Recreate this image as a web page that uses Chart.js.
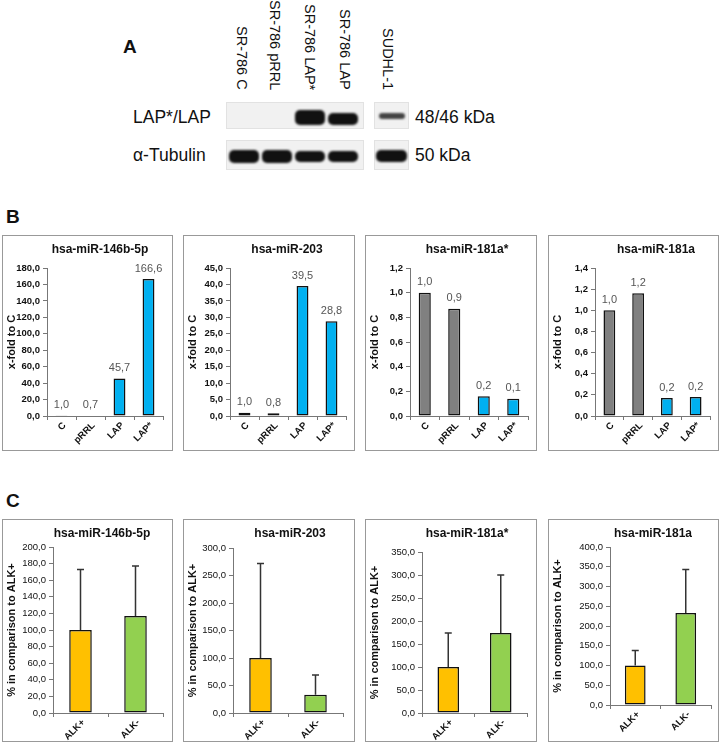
<!DOCTYPE html>
<html>
<head>
<meta charset="utf-8">
<script src="https://cdn.jsdelivr.net/npm/chart.js@4.4.1/dist/chart.umd.min.js"></script>
<style>
body{margin:0;width:720px;height:743px;position:relative;font-family:"Liberation Sans",Arial,sans-serif;background:#fff;overflow:hidden;color:#111}
.lab{position:absolute;font-weight:bold;font-size:19px}
.lane{position:absolute;writing-mode:vertical-rl;font-size:14.5px;white-space:nowrap;bottom:653px;line-height:16px}
.txt{position:absolute;font-size:17.5px;white-space:nowrap}
.blot{position:absolute;background:#f1f1f1;border:1px solid #e2e2e2;box-sizing:border-box}
.band{position:absolute;background:#111;border-radius:5px;filter:blur(0.8px)}
.box{position:absolute;border:1px solid #999;box-sizing:border-box;background:#fff}
.box canvas{display:block}
</style>
</head>
<body>
<div class="lab" style="left:123px;top:36px">A</div>
<div class="lane" style="left:234px">SR-786 C</div>
<div class="lane" style="left:267px">SR-786 pRRL</div>
<div class="lane" style="left:302px">SR-786 LAP*</div>
<div class="lane" style="left:337px">SR-786 LAP</div>
<div class="lane" style="left:380px">SUDHL-1</div>

<div class="txt" style="left:133px;top:107px">LAP*/LAP</div>
<div class="txt" style="left:133px;top:145px">α-Tubulin</div>
<div class="txt" style="left:415px;top:107px">48/46 kDa</div>
<div class="txt" style="left:415px;top:145px">50 kDa</div>

<div class="blot" style="left:226px;top:102px;width:138px;height:27px"></div>
<div class="blot" style="left:226px;top:140px;width:138px;height:30px"></div>
<div class="blot" style="left:374px;top:102px;width:35px;height:27px"></div>
<div class="blot" style="left:374px;top:140px;width:35px;height:30px"></div>

<div class="band" style="left:295px;top:110px;width:30px;height:15px"></div>
<div class="band" style="left:328px;top:113px;width:30px;height:12px"></div>
<div class="band" style="left:379px;top:113px;width:26px;height:6px;background:#444"></div>
<div class="band" style="left:229px;top:150px;width:30px;height:13px"></div>
<div class="band" style="left:262px;top:150px;width:30px;height:13px"></div>
<div class="band" style="left:295px;top:151px;width:30px;height:11px"></div>
<div class="band" style="left:328px;top:151px;width:30px;height:11px"></div>
<div class="band" style="left:376px;top:150px;width:31px;height:12px"></div>

<div class="lab" style="left:6px;top:206px">B</div>
<div class="box" style="left:2px;top:235px;width:171px;height:216px"><canvas id="b1" width="169" height="214"></canvas></div>
<div class="box" style="left:183px;top:235px;width:172px;height:216px"><canvas id="b2" width="170" height="214"></canvas></div>
<div class="box" style="left:365px;top:235px;width:172px;height:216px"><canvas id="b3" width="170" height="214"></canvas></div>
<div class="box" style="left:548px;top:235px;width:171px;height:216px"><canvas id="b4" width="169" height="214"></canvas></div>

<div class="lab" style="left:6px;top:490px">C</div>
<div class="box" style="left:2px;top:519px;width:171px;height:223px"><canvas id="c1" width="169" height="221"></canvas></div>
<div class="box" style="left:183px;top:519px;width:172px;height:223px"><canvas id="c2" width="170" height="221"></canvas></div>
<div class="box" style="left:365px;top:519px;width:172px;height:223px"><canvas id="c3" width="170" height="221"></canvas></div>
<div class="box" style="left:548px;top:519px;width:171px;height:223px"><canvas id="c4" width="169" height="221"></canvas></div>

<script>
// panel B: x-fold to C
const bCats = ["C", "pRRL", "LAP", "LAP*"];
const bColors = ["#808080", "#808080", "#00B0F0", "#00B0F0"];
const b146 = [1.0, 0.7, 45.7, 166.6];
const b203 = [1.0, 0.8, 39.5, 28.8];
const b181aStar = [1.0, 0.87, 0.16, 0.14];
const b181a = [1.0, 1.16, 0.17, 0.18];

// panel C: % in comparison to ALK+
const cCats = ["ALK+", "ALK-"];
const cColors = ["#FFC000", "#92D050"];
const c146 = [100.0, 117.0];
const c146Err = [73.0, 60.0];
const c203 = [100.0, 33.0];
const c203Err = [172.0, 36.0];
const c181aStar = [100.0, 174.0];
const c181aStarErr = [74.0, 126.0];
const c181a = [100.0, 233.0];
const c181aErr = [38.0, 110.0];

// plot area placement inside each box (px)
const boxes = {
    b1: { left: 44, right: 9, top: 32, bottom: 34, titleX: 97 },
    b2: { left: 46, right: 8, top: 32, bottom: 34, titleX: 103 },
    b3: { left: 44, right: 8, top: 32, bottom: 34, titleX: 101 },
    b4: { left: 46, right: 8, top: 32, bottom: 34, titleX: 107 },
    c1: { left: 50, right: 9, top: 27, bottom: 28, titleX: 99 },
    c2: { left: 49, right: 11, top: 28, bottom: 28, titleX: 106 },
    c3: { left: 56, right: 9, top: 32, bottom: 28, titleX: 101 },
    c4: { left: 61, right: 7, top: 27, bottom: 36, titleX: 104 },
};

const fmt = (v) => Number(v).toFixed(1).replace(".", ",");
const FONT = "'Liberation Sans', Arial, sans-serif";

const boxTitle = {
    id: "boxTitle",
    afterDraw(chart, args, opts) {
        const ctx = chart.ctx;
        ctx.save();
        ctx.fillStyle = "#111";
        ctx.font = "bold 12px " + FONT;
        ctx.textAlign = "center";
        ctx.textBaseline = "middle";
        ctx.fillText(opts.text, opts.x, 14);
        ctx.restore();
    },
};

// category labels slanted at 45 degrees, ending under each tick
const slantLabels = {
    id: "slantLabels",
    afterDraw(chart) {
        const ctx = chart.ctx;
        const x = chart.scales.x;
        ctx.save();
        ctx.fillStyle = "#111";
        ctx.font = "bold 9.5px " + FONT;
        ctx.textAlign = "right";
        ctx.textBaseline = "middle";
        chart.data.labels.forEach((lab, i) => {
            const px = x.getPixelForValue(i);
            ctx.save();
            ctx.translate(px + 3, x.top + 8);
            ctx.rotate(-Math.PI / 4);
            ctx.fillText(lab, 0, 0);
            ctx.restore();
        });
        ctx.restore();
    },
};

const valueLabels = {
    id: "valueLabels",
    afterDatasetsDraw(chart, args, opts) {
        if (!opts.show) return;
        const ctx = chart.ctx;
        const meta = chart.getDatasetMeta(0);
        ctx.save();
        ctx.fillStyle = "#555";
        ctx.font = "11px " + FONT;
        ctx.textAlign = "center";
        ctx.textBaseline = "bottom";
        meta.data.forEach((bar, i) => {
            ctx.fillText(fmt(chart.data.datasets[0].data[i]), bar.x, bar.y - 5);
        });
        ctx.restore();
    },
};

const errorBars = {
    id: "errorBars",
    afterDatasetsDraw(chart, args, opts) {
        if (!opts.errors) return;
        const ctx = chart.ctx;
        const meta = chart.getDatasetMeta(0);
        const y = chart.scales.y;
        const vals = chart.data.datasets[0].data;
        ctx.save();
        ctx.strokeStyle = "#333";
        ctx.lineWidth = 1.5;
        meta.data.forEach((bar, i) => {
            const top = y.getPixelForValue(vals[i] + opts.errors[i]);
            ctx.beginPath();
            ctx.moveTo(bar.x, bar.y);
            ctx.lineTo(bar.x, top);
            ctx.moveTo(bar.x - 3.5, top);
            ctx.lineTo(bar.x + 3.5, top);
            ctx.stroke();
        });
        ctx.restore();
    },
};

function makeChart(id, title, labels, values, colors, max, step, yTitle, errors, boldTicks) {
    const L = boxes[id];
    new Chart(document.getElementById(id), {
        type: "bar",
        data: {
            labels,
            datasets: [
                {
                    data: values,
                    backgroundColor: colors,
                    borderColor: "#111",
                    borderWidth: 1.5,
                    borderSkipped: false,
                    barPercentage: 1,
                    categoryPercentage: 0.41,
                },
            ],
        },
        options: {
            responsive: false,
            animation: false,
            layout: { padding: { left: 0, right: L.right, top: L.top, bottom: 0 } },
            plugins: {
                legend: { display: false },
                tooltip: { enabled: false },
                title: { display: false },
                boxTitle: { text: title, x: L.titleX },
                valueLabels: { show: !errors },
                errorBars: { errors },
            },
            scales: {
                x: {
                    afterFit: (s) => { s.height = L.bottom; },
                    grid: { drawOnChartArea: false, color: "#777", tickLength: 4 },
                    border: { color: "#777" },
                    ticks: { display: false },
                },
                y: {
                    min: 0,
                    max,
                    afterFit: (s) => { s.width = L.left; },
                    grid: { drawOnChartArea: false, color: "#777", tickLength: 4 },
                    border: { color: "#777" },
                    ticks: {
                        stepSize: step,
                        autoSkip: false,
                        color: "#111",
                        font: { family: FONT, size: 9.5, weight: boldTicks ? "bold" : "normal" },
                        callback: (v) => fmt(v),
                        padding: 3,
                    },
                    title: {
                        display: true,
                        text: yTitle,
                        color: "#111",
                        font: { family: FONT, size: 11, weight: "bold" },
                        padding: { top: 2, bottom: 0 },
                    },
                },
            },
        },
        plugins: [boxTitle, slantLabels, valueLabels, errorBars],
    });
}

makeChart("b1", "hsa-miR-146b-5p", bCats, b146, bColors, 180, 20, "x-fold to C", null, true);
makeChart("b2", "hsa-miR-203", bCats, b203, bColors, 45, 5, "x-fold to C", null, true);
makeChart("b3", "hsa-miR-181a*", bCats, b181aStar, bColors, 1.2, 0.2, "x-fold to C", null, true);
makeChart("b4", "hsa-miR-181a", bCats, b181a, bColors, 1.4, 0.2, "x-fold to C", null, true);

makeChart("c1", "hsa-miR-146b-5p", cCats, c146, cColors, 200, 20, "% in comparison to ALK+", c146Err, false);
makeChart("c2", "hsa-miR-203", cCats, c203, cColors, 300, 50, "% in comparison to ALK+", c203Err, false);
makeChart("c3", "hsa-miR-181a*", cCats, c181aStar, cColors, 350, 50, "% in comparison to ALK+", c181aStarErr, false);
makeChart("c4", "hsa-miR-181a", cCats, c181a, cColors, 400, 50, "% in comparison to ALK+", c181aErr, false);
</script>
</body>
</html>
